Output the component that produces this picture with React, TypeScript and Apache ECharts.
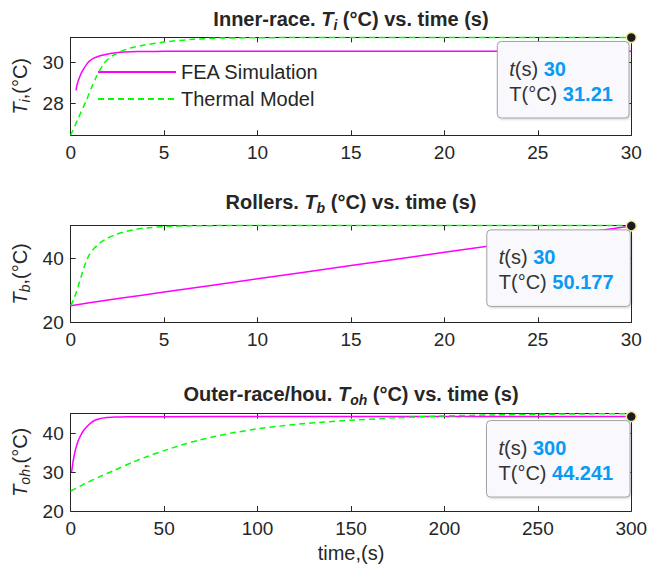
import React, { useEffect, useRef } from "react";
import * as echarts from "echarts";

const FONT = '"Liberation Sans", Arial, Helvetica, sans-serif';
const AX = "#262626";
const MAGENTA = "#ff00ff";
const GREEN = "#00ff00";
const TIPBLUE = "#0a9af5";

// ---------- Data ----------
// Panel 1: inner race
const innerFeaT = [0.28, 0.35, 0.5, 0.65, 0.86, 1.0, 1.21, 1.5, 1.75, 2.2, 2.64, 3.2, 4, 5, 7, 10, 15, 20, 25, 30];
const innerFeaV = [28.64, 28.95, 29.34, 29.62, 29.92, 30.06, 30.2, 30.3, 30.36, 30.44, 30.49, 30.52, 30.53, 30.54, 30.54, 30.54, 30.54, 30.54, 30.54, 30.54];
const innerModelT = [0, 0.41, 0.86, 1.1, 1.39, 1.75, 2.1, 2.64, 3.2, 3.97, 5.08, 6.6, 8, 10, 13, 16, 20, 25, 30];
const innerModelV = [26.46, 27.3, 28.2, 28.75, 29.34, 29.92, 30.25, 30.52, 30.7, 30.85, 31.0, 31.13, 31.18, 31.2, 31.21, 31.21, 31.21, 31.21, 31.21];

// Panel 2: rollers
const rollFeaT = [0, 1, 2.64, 5, 10, 15, 20, 25, 30];
const rollFeaV = [25.15, 26.1, 27.5, 29.5, 33.6, 37.75, 41.9, 46.0, 50.177];
const rollModelT = [0, 0.15, 0.32, 0.45, 0.59, 0.72, 0.86, 1.0, 1.21, 1.57, 1.93, 2.46, 3.0, 3.5, 3.97, 5.08, 6.5, 8, 10, 30];
const rollModelV = [25.15, 27.1, 29.7, 32.2, 34.9, 37.4, 39.5, 41.2, 42.9, 44.9, 46.2, 47.6, 48.5, 49.1, 49.5, 50.0, 50.2, 50.27, 50.3, 50.3];

// Panel 3: outer race / housing
const ohFeaT = [0.5, 1, 1.5, 2.3, 3, 4, 5, 6.5, 8.6, 10.5, 13, 15.5, 18.4, 23.7, 30, 50, 100, 150, 200, 250, 300];
const ohFeaV = [30.0, 31.8, 33.3, 35.2, 36.5, 38.0, 39.05, 40.4, 41.6, 42.5, 43.3, 43.7, 43.95, 44.1, 44.18, 44.22, 44.24, 44.24, 44.24, 44.24, 44.241];
const ohModelT = [0, 8, 15, 24, 32.5, 41, 50, 59, 68, 77, 86, 100, 111, 122, 136, 150, 175, 200, 225, 250, 275, 300];
const ohModelV = [25.13, 27.1, 28.7, 30.55, 32.4, 34.0, 35.5, 36.9, 38.1, 39.1, 40.0, 41.1, 41.75, 42.3, 42.85, 43.3, 43.95, 44.4, 44.65, 44.82, 44.92, 44.96];

// Axes
const titlePrefix = ["Inner-race. ", "Rollers. ", "Outer-race/hou. "];
const subNames = ["i", "b", "oh"];
const xMax = [30, 30, 300];
const xInterval = [5, 5, 50];
const yMin = [26.46, 20, 20];
const yMax = [31.22, 50.3, 45];
const yTicks = [[28, 30], [20, 40], [20, 30, 40]];
const seriesNames = ["FEA Simulation", "Thermal Model"];
const xName = "time,(s)";

// Data tips
const tipX = [30, 30, 300];
const tipY = [31.21, 50.177, 44.241];

// ---------- Layout ----------
const GRID_LEFT = 70.7;
const GRID_RIGHT = 17.7;
const gridTops = [37.3, 225.5, 413.6];
const gridHeights = [98, 96.8, 97.4];
const titleY = [19, 202, 393.5];
const PLOT_CX = (GRID_LEFT + (649 - GRID_RIGHT)) / 2;
const boxW = [131.7, 143.5, 143.5];
const boxLeftOff = [134, 144.5, 144.8];

const zip = (a: number[], b: number[]) => a.map((v, i) => [v, b[i]]);
const panels = [
  { feaT: innerFeaT, feaV: innerFeaV, modT: innerModelT, modV: innerModelV },
  { feaT: rollFeaT, feaV: rollFeaV, modT: rollModelT, modV: rollModelV },
  { feaT: ohFeaT, feaV: ohFeaV, modT: ohModelT, modV: ohModelV },
];

const richSub = (size: number, bold: boolean, pad: number) => ({
  it: { fontStyle: "italic", fontWeight: bold ? "bold" : "normal", fontSize: size, fontFamily: FONT, color: AX, fill: AX },
  sub: { fontStyle: "italic", fontWeight: bold ? "bold" : "normal", fontSize: Math.round(size * 0.7), fontFamily: FONT, color: AX, fill: AX, padding: [pad, 0, 0, 0] },
  n: { fontStyle: "normal", fontWeight: bold ? "bold" : "normal", fontSize: size, fontFamily: FONT, color: AX, fill: AX },
});

export default function App() {
  const ref = useRef<HTMLDivElement>(null);
  useEffect(() => {
    if (!ref.current) return;
    const chart = echarts.init(ref.current, null, { renderer: "svg" });

    const grid: any[] = [];
    const xAxis: any[] = [];
    const yAxis: any[] = [];
    const series: any[] = [];

    for (let i = 0; i < 3; i++) {
      grid.push({ left: GRID_LEFT, right: GRID_RIGHT, top: gridTops[i], height: gridHeights[i], containLabel: false, outerBoundsMode: "none" });
      const xBase = {
        type: "value", gridIndex: i, min: 0, max: xMax[i], interval: xInterval[i],
        axisLine: { show: true, onZero: false, lineStyle: { color: AX, width: 1 } },
        axisTick: { show: true, inside: true, length: 5, lineStyle: { color: AX, width: 1 } },
        splitLine: { show: false },
      };
      xAxis.push({
        ...xBase, position: "bottom",
        axisLabel: { show: true, fontSize: 19, color: AX, fontFamily: FONT, margin: 8 },
        name: i === 2 ? xName : "", nameLocation: "middle", nameGap: 32,
        nameTextStyle: { fontSize: 20, color: AX, fontFamily: FONT },
      });
      xAxis.push({ ...xBase, position: "top", axisLabel: { show: false } });

      const yBase = {
        type: "value", gridIndex: i, min: yMin[i], max: yMax[i],
        axisLine: { show: true, onZero: false, lineStyle: { color: AX, width: 1 } },
        axisTick: { show: true, inside: true, length: 5, lineStyle: { color: AX, width: 1 }, customValues: yTicks[i] },
        splitLine: { show: false },
      };
      yAxis.push({
        ...yBase, position: "left",
        axisLabel: { show: true, fontSize: 19, color: AX, fontFamily: FONT, margin: 7, customValues: yTicks[i] },
        name: `{it|T}{sub|${subNames[i]}}{n|,(°C)}`, nameLocation: "middle", nameGap: 25, nameRotate: 90,
        nameTextStyle: { fontSize: 20, color: AX, fontFamily: FONT, rich: richSub(20, false, 10) },
      });
      yAxis.push({ ...yBase, position: "right", axisLabel: { show: false, customValues: yTicks[i] } });

      const p = panels[i];
      series.push({
        type: "line", name: seriesNames[0], xAxisIndex: 2 * i, yAxisIndex: 2 * i,
        data: zip(p.feaT, p.feaV), showSymbol: false, symbol: "none", smooth: 0.15,
        clip: false, lineStyle: { color: MAGENTA, width: 1.5 }, itemStyle: { color: MAGENTA }, z: 3,
      });
      series.push({
        type: "line", name: seriesNames[1], xAxisIndex: 2 * i, yAxisIndex: 2 * i,
        data: zip(p.modT, p.modV), showSymbol: false, symbol: "none", smooth: 0.15,
        clip: false, lineStyle: { color: GREEN, width: 1.5, type: [6, 4] }, itemStyle: { color: GREEN }, z: 4,
      });
      series.push({
        type: "scatter", xAxisIndex: 2 * i, yAxisIndex: 2 * i, data: [[tipX[i], tipY[i]]],
        symbolSize: 10, clip: false, silent: true, z: 10,
        itemStyle: { color: "#1c1c1c", borderColor: "#f2eda6", borderWidth: 1.5, opacity: 1 },
      });
    }

    chart.setOption({
      animation: false,
      backgroundColor: "#ffffff",
      grid, xAxis, yAxis, series,
      legend: {
        data: seriesNames, orient: "vertical", left: 97, top: 62, padding: 0,
        itemWidth: 78, itemHeight: 20, itemGap: 7, selectedMode: false,
        itemStyle: { opacity: 0, color: "transparent", borderColor: "transparent", borderWidth: 0 },
        textStyle: { fontSize: 20, color: AX, fontFamily: FONT },
      },
    });

    const graphic: any[] = [];
    for (let i = 0; i < 3; i++) {
      graphic.push({
        type: "text", x: PLOT_CX, y: titleY[i], z: 50,
        style: {
          text: `${titlePrefix[i]}{it|T}{sub|${subNames[i]}} (°C) vs. time (s)`,
          rich: richSub(20, true, 12),
          font: `bold 20px ${FONT}`, fill: AX,
          align: "center", verticalAlign: "middle", textAlign: "center", textVerticalAlign: "middle",
        },
      });
      const pt = chart.convertToPixel({ seriesIndex: 3 * i + 2 }, [tipX[i], tipY[i]]) as number[];
      const bl = pt[0] - boxLeftOff[i];
      const bt = pt[1] + 4;
      graphic.push({
        type: "rect", z: 60,
        shape: { x: bl, y: bt, width: boxW[i], height: 76.5, r: 4 },
        style: { fill: "#f9f9fd", stroke: "#a3a3a3", lineWidth: 1, shadowBlur: 2, shadowOffsetX: 1, shadowOffsetY: 1, shadowColor: "rgba(0,0,0,0.18)" },
      });
      const tipRich = {
        it: { fontStyle: "italic", fontSize: 20, fontFamily: FONT, fill: "#333333", color: "#333333" },
        n: { fontSize: 20, fontFamily: FONT, fill: "#333333", color: "#333333" },
        v: { fontWeight: "bold", fontSize: 20, fontFamily: FONT, fill: TIPBLUE, color: TIPBLUE },
      };
      graphic.push({
        type: "text", x: bl + 12, y: bt + 27.5, z: 61,
        style: {
          text: `{it|t}{n|(s) }{v|${tipX[i]}}`, rich: tipRich, font: `20px ${FONT}`,
          align: "left", verticalAlign: "middle", textAlign: "left", textVerticalAlign: "middle",
        },
      });
      graphic.push({
        type: "text", x: bl + 12, y: bt + 52.5, z: 61,
        style: {
          text: `{n|T(°C) }{v|${tipY[i]}}`, rich: tipRich, font: `20px ${FONT}`,
          align: "left", verticalAlign: "middle", textAlign: "left", textVerticalAlign: "middle",
        },
      });
    }
    chart.setOption({ graphic });

    return () => chart.dispose();
  }, []);
  return <div ref={ref} style={{ position: "absolute", left: 0, top: 0, width: 649, height: 569, background: "#fff" }} />;
}
